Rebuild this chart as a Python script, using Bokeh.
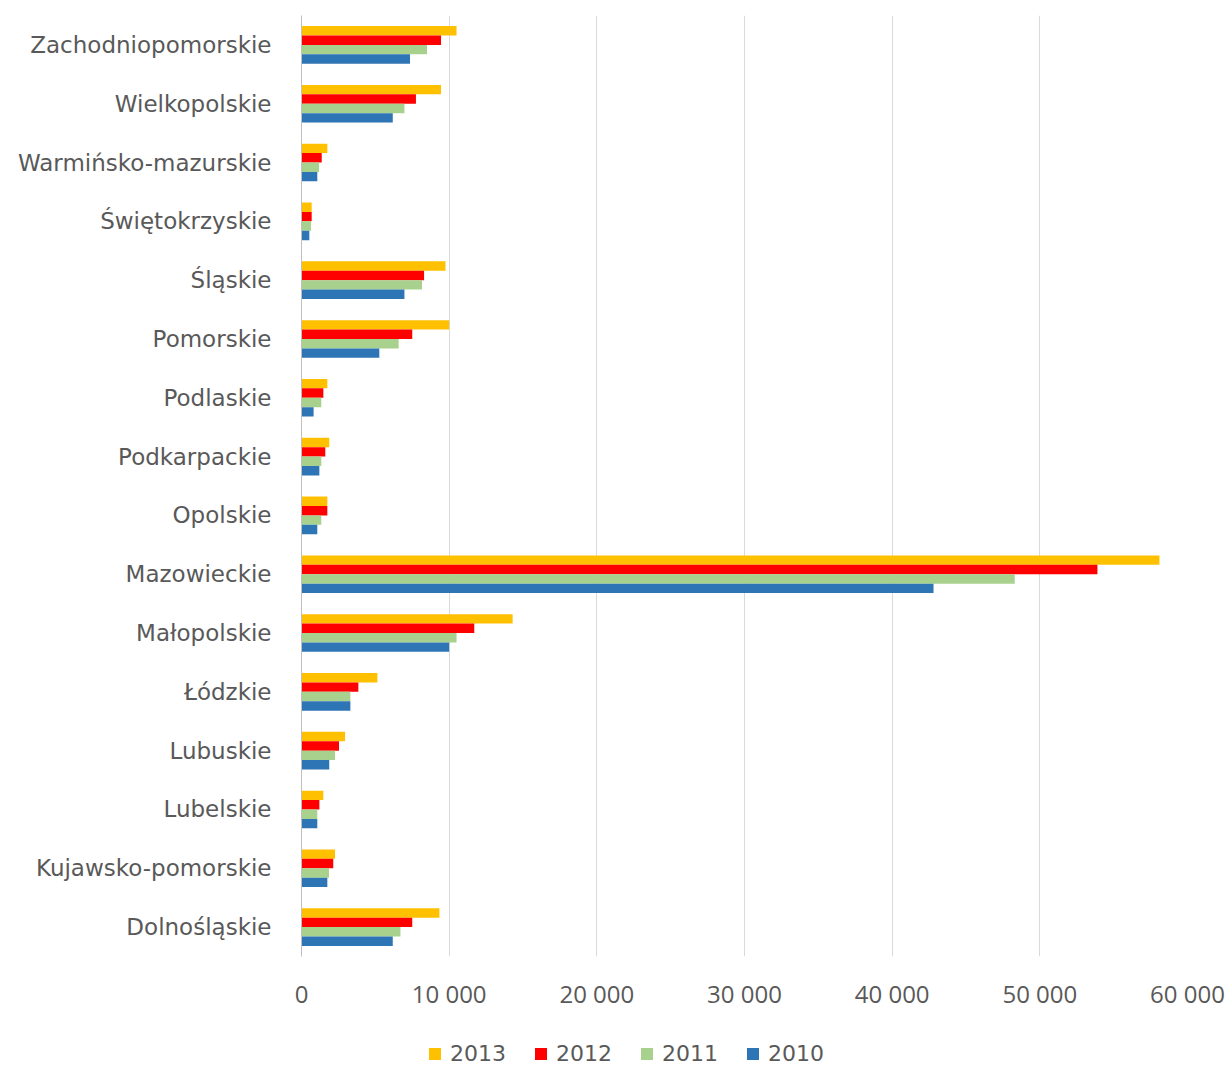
from bokeh.plotting import figure
from bokeh.models import ColumnDataSource, FactorRange, Range1d, FixedTicker, Legend, LegendItem
from bokeh.transform import dodge
from bokeh.layouts import column
from bokeh.embed import file_html
from bokeh.resources import INLINE

regions = ["Dolnośląskie", "Kujawsko-pomorskie", "Lubelskie", "Lubuskie", "Łódzkie",
           "Małopolskie", "Mazowieckie", "Opolskie", "Podkarpackie", "Podlaskie",
           "Pomorskie", "Śląskie", "Świętokrzyskie", "Warmińsko-mazurskie",
           "Wielkopolskie", "Zachodniopomorskie"]

v2013 = [9340, 2270, 1480, 2950, 5140, 14300, 58100, 1750, 1880, 1750, 10000, 9750, 690, 1750, 9450, 10500]
v2012 = [7500, 2150, 1210, 2540, 3850, 11700, 53900, 1750, 1610, 1480, 7500, 8300, 690, 1370, 7750, 9450]
v2011 = [6700, 1860, 1070, 2270, 3310, 10500, 48300, 1340, 1340, 1340, 6580, 8160, 640, 1190, 6970, 8500]
v2010 = [6180, 1750, 1070, 1880, 3310, 10000, 42800, 1070, 1210, 820, 5270, 6970, 530, 1070, 6180, 7350]

years = ["2013", "2012", "2011", "2010"]
colors = ["#FFC000", "#FF0000", "#A9D18E", "#2E75B6"]
x_ticks = [0, 10000, 20000, 30000, 40000, 50000, 60000]
x_labels = ["0", "10 000", "20 000", "30 000", "40 000", "50 000", "60 000"]

src = ColumnDataSource(dict(region=regions, y2013=v2013, y2012=v2012, y2011=v2011, y2010=v2010))

p = figure(width=1228, height=1036, y_range=FactorRange(*regions), x_range=Range1d(0, 60000),
           output_backend="svg", toolbar_location=None,
           min_border_left=301, min_border_right=41, min_border_top=15, min_border_bottom=80)

offsets = [0.24, 0.08, -0.08, -0.24]
for yr, col, off in zip(years, colors, offsets):
    p.hbar(y=dodge("region", off, range=p.y_range), right="y" + yr, left=0, height=0.16,
           source=src, fill_color=col, line_color=None)

p.y_range.range_padding = 0
p.xaxis.ticker = FixedTicker(ticks=x_ticks)
p.xaxis.major_label_overrides = {t: l for t, l in zip(x_ticks, x_labels)}
p.xaxis.axis_line_color = None
p.xaxis.major_tick_line_color = None
p.xaxis.minor_tick_line_color = None
p.xaxis.major_label_text_font = "Open Sans"
p.xaxis.major_label_text_font_size = "24px"
p.xaxis.major_label_text_color = "#595959"
p.xaxis.major_label_standoff = 14

p.yaxis.axis_line_color = "#BFBFBF"
p.yaxis.axis_line_width = 1
p.yaxis.major_tick_line_color = None
p.yaxis.minor_tick_line_color = None
p.yaxis.major_label_text_font = "DejaVu Sans"
p.yaxis.major_label_text_font_size = "23px"
p.yaxis.major_label_text_color = "#595959"
p.yaxis.major_label_standoff = 24

p.xgrid.grid_line_color = "#D9D9D9"
p.ygrid.grid_line_color = None
p.outline_line_color = None

# legend strip (legend-only renderers hold no drawable data)
lg = figure(width=1228, height=30, x_range=Range1d(0, 1), y_range=Range1d(0, 1),
            output_backend="svg", toolbar_location=None,
            min_border_left=0, min_border_right=0, min_border_top=0, min_border_bottom=0)
lg.axis.visible = False
lg.grid.visible = False
lg.outline_line_color = None
nan = float("nan")
dummies = [lg.hbar(y=[nan], right=[nan], left=[nan], height=0.1, fill_color=col, line_color=None)
           for col in colors]

legend = Legend(items=[LegendItem(label=yr, renderers=[r]) for yr, r in zip(years, dummies)],
                orientation="horizontal", location=(126, 0))
legend.label_text_font = "DejaVu Sans"
legend.label_text_font_size = "22px"
legend.label_text_color = "#595959"
legend.glyph_width = 15
legend.glyph_height = 15
legend.label_height = 22
legend.spacing = 27
legend.label_standoff = 8
legend.border_line_color = None
legend.background_fill_alpha = 0
legend.margin = 0
legend.padding = 2
lg.add_layout(legend, "center")

layout = column(p, lg, spacing=0)
open("out.html", "w").write(file_html(layout, INLINE))
